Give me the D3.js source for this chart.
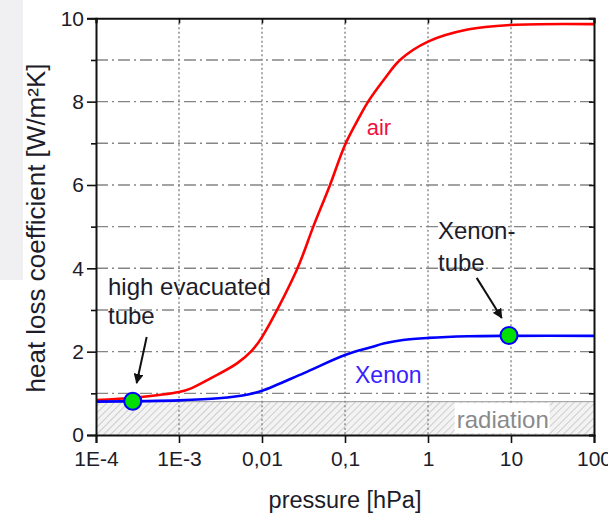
<!DOCTYPE html>
<html><head><meta charset="utf-8">
<script src="https://cdn.jsdelivr.net/npm/d3@7"></script>
<style>
body{margin:0;background:#fff;}
text{font-family:"Liberation Sans",Arial,sans-serif;}
</style>
</head><body>
<svg id="chart" width="608" height="515"></svg>
<script>
// ---- data ----
const pressureTicks = [1e-4, 1e-3, 1e-2, 1e-1, 1, 10, 100];
const pressureTickLabels = ["1E-4", "1E-3", "0,01", "0,1", "1", "10", "100"];
const valueTicks = [0, 2, 4, 6, 8, 10];
const valueMinorTicks = [1, 3, 5, 7, 9];

const airPressure = [1e-4, 3e-4, 1e-3, 1.4e-3, 2.4e-3, 5e-3, 7.5e-3, 0.01, 0.0262, 0.0415, 0.066, 0.1, 0.151, 0.19, 0.3, 0.46, 1, 3, 10, 100];
const airValues   = [0.84, 0.90, 1.03, 1.12, 1.36, 1.72, 2.02, 2.35, 3.96, 5.0, 6.0, 6.96, 7.65, 8.0, 8.55, 9.0, 9.44, 9.73, 9.84, 9.86];

const xenonPressure = [1e-4, 1e-3, 3e-3, 7e-3, 0.01, 0.0315, 0.1, 0.2, 0.3, 0.5, 1, 3, 10, 100];
const xenonValues   = [0.80, 0.83, 0.88, 0.98, 1.06, 1.48, 1.92, 2.10, 2.20, 2.28, 2.33, 2.37, 2.38, 2.38];

const radiationLevel = 0.8;

const markerPressure = [2.77e-4, 9.46];
const markerValues = [0.81, 2.39];

const labelTexts = ["air", "Xenon", "radiation", "high evacuated", "tube", "Xenon-", "tube"];
const labelPressure = [0.1825, 0.132, 2.22, 1.395e-4, 1.395e-4, 1.32, 1.32];
const labelValues = [7.2, 1.25, 0.175, 3.36, 2.66, 4.70, 3.94];

const arrowFromPressure = [4.08e-4, 3.86];
const arrowFromValues = [2.35, 3.77];
const arrowToPressure = [3.09e-4, 7.73];
const arrowToValues = [1.25, 2.81];

// ---- layout ----
const svg = d3.select("#chart");
const L = 96, R = 594, T = 18.3, B = 435;
const x = d3.scaleLog().domain([1e-4, 100]).range([L, R]);
const y = d3.scaleLinear().domain([0, 10]).range([B, T]);

// left gray strip of the page
svg.append("rect").attr("x", 0).attr("y", 0).attr("width", 23).attr("height", 280).attr("fill", "#f0f0f2");

const defs = svg.append("defs");
const pat = defs.append("pattern").attr("id", "hatch").attr("patternUnits", "userSpaceOnUse")
  .attr("width", 5).attr("height", 5).attr("patternTransform", "rotate(45)");
pat.append("rect").attr("width", 5).attr("height", 5).attr("fill", "#f3f3f3");
pat.append("line").attr("x1", 0).attr("y1", 0).attr("x2", 0).attr("y2", 5).attr("stroke", "#b8b8b8").attr("stroke-width", 1.3);

defs.append("marker").attr("id", "arrow").attr("viewBox", "0 0 10 10").attr("refX", 9).attr("refY", 5)
  .attr("markerWidth", 5).attr("markerHeight", 5).attr("markerUnits", "strokeWidth").attr("orient", "auto")
  .append("path").attr("d", "M0,0 L10,5 L0,10 Z").attr("fill", "#111");

// radiation band
svg.append("rect").attr("x", L).attr("y", y(radiationLevel)).attr("width", R - L).attr("height", B - y(radiationLevel))
  .attr("fill", "url(#hatch)");
svg.append("line").attr("x1", L).attr("x2", R).attr("y1", y(radiationLevel)).attr("y2", y(radiationLevel))
  .attr("stroke", "#999").attr("stroke-width", 1);

// grid
const grid = svg.append("g");
grid.selectAll(".hg").data(d3.range(1, 10)).enter().append("line")
  .attr("x1", L).attr("x2", R).attr("y1", d => y(d)).attr("y2", d => y(d))
  .attr("stroke", "#858585").attr("stroke-width", 1.4).attr("stroke-dasharray", "12,4,2,4");
grid.selectAll(".vg").data(pressureTicks.slice(1, -1)).enter().append("line")
  .attr("x1", d => x(d)).attr("x2", d => x(d)).attr("y1", T).attr("y2", B)
  .attr("stroke", "#858585").attr("stroke-width", 1.4).attr("stroke-dasharray", "2,2.5");

// radiation label box
const radIdx = 2;
svg.append("rect").attr("x", x(labelPressure[radIdx]) - 2).attr("y", y(radiationLevel) + 1.5)
  .attr("width", 95).attr("height", 30).attr("fill", "#fff");

// curves
const line = d3.line().x(d => x(d[0])).y(d => y(d[1])).curve(d3.curveCatmullRom.alpha(0.5));
svg.append("path").datum(airPressure.map((p, i) => [p, airValues[i]]))
  .attr("d", line).attr("fill", "none").attr("stroke", "#ff0000").attr("stroke-width", 2.6);
svg.append("path").datum(xenonPressure.map((p, i) => [p, xenonValues[i]]))
  .attr("d", line).attr("fill", "none").attr("stroke", "#0000ff").attr("stroke-width", 2.6);

// axes
const fontTick = "21px";
const xAxis = d3.axisBottom(x).tickValues(pressureTicks).tickFormat((d, i) => pressureTickLabels[i]).tickSize(8).tickPadding(8);
const gx = svg.append("g").attr("transform", `translate(0,${B})`).call(xAxis);
const yAxis = d3.axisLeft(y).tickValues(valueTicks).tickFormat(d => d).tickSize(9).tickPadding(3);
const gy = svg.append("g").attr("transform", `translate(${L},0)`).call(yAxis);
const yMinor = d3.axisLeft(y).tickValues(valueMinorTicks).tickFormat("").tickSize(5);
const gym = svg.append("g").attr("transform", `translate(${L},0)`).call(yMinor);
const xTop = d3.axisBottom(x).tickValues(pressureTicks).tickFormat("").tickSize(5);
const gxt = svg.append("g").attr("transform", `translate(0,${T})`).call(xTop);
const yRight = d3.axisRight(y).tickValues(d3.range(0, 11)).tickFormat("").tickSize(-5);
const gyr = svg.append("g").attr("transform", `translate(${R},0)`).call(yRight);
[gx, gy, gym, gxt, gyr].forEach(g => {
  g.selectAll(".domain").attr("stroke", "#111").attr("stroke-width", 2);
  g.selectAll(".tick line").attr("stroke", "#111").attr("stroke-width", 1.6);
  g.selectAll(".tick text").attr("fill", "#1c1c2a").style("font-size", fontTick).style("font-family", '"Liberation Sans",Arial,sans-serif');
});
gx.selectAll(".tick text").attr("dy", "0.71em");
gym.select(".domain").remove();

// axis titles
svg.append("text").attr("x", 345).attr("y", 508).attr("text-anchor", "middle")
  .style("font-size", "23.5px").attr("fill", "#1c1c2a").text("pressure [hPa]");
svg.append("text").attr("transform", "translate(45,228) rotate(-90)").attr("text-anchor", "middle")
  .style("font-size", "26px").attr("fill", "#1c1c2a").text("heat loss coefficient [W/m²K]");

// labels
const labelColors = ["#f01040", "#3a20ff", "#8a8a8a", "#1c1c2a", "#1c1c2a", "#1c1c2a", "#1c1c2a"];
const labelSizes = ["22px", "23px", "24px", "24px", "24px", "24px", "24px"];
svg.selectAll(".lbl").data(labelTexts).enter().append("text")
  .attr("x", (d, i) => x(labelPressure[i])).attr("y", (d, i) => y(labelValues[i]))
  .attr("fill", (d, i) => labelColors[i]).style("font-size", (d, i) => labelSizes[i]).text(d => d);

// arrows
svg.selectAll(".arr").data(arrowFromPressure).enter().append("line")
  .attr("x1", (d, i) => x(d)).attr("y1", (d, i) => y(arrowFromValues[i]))
  .attr("x2", (d, i) => x(arrowToPressure[i])).attr("y2", (d, i) => y(arrowToValues[i]))
  .attr("stroke", "#111").attr("stroke-width", 2).attr("marker-end", "url(#arrow)");

// markers
svg.selectAll(".mk").data(markerPressure).enter().append("circle")
  .attr("cx", d => x(d)).attr("cy", (d, i) => y(markerValues[i])).attr("r", 8.5)
  .attr("fill", "#00e000").attr("stroke", "#0000ff").attr("stroke-width", 2);
</script>
</body></html>
